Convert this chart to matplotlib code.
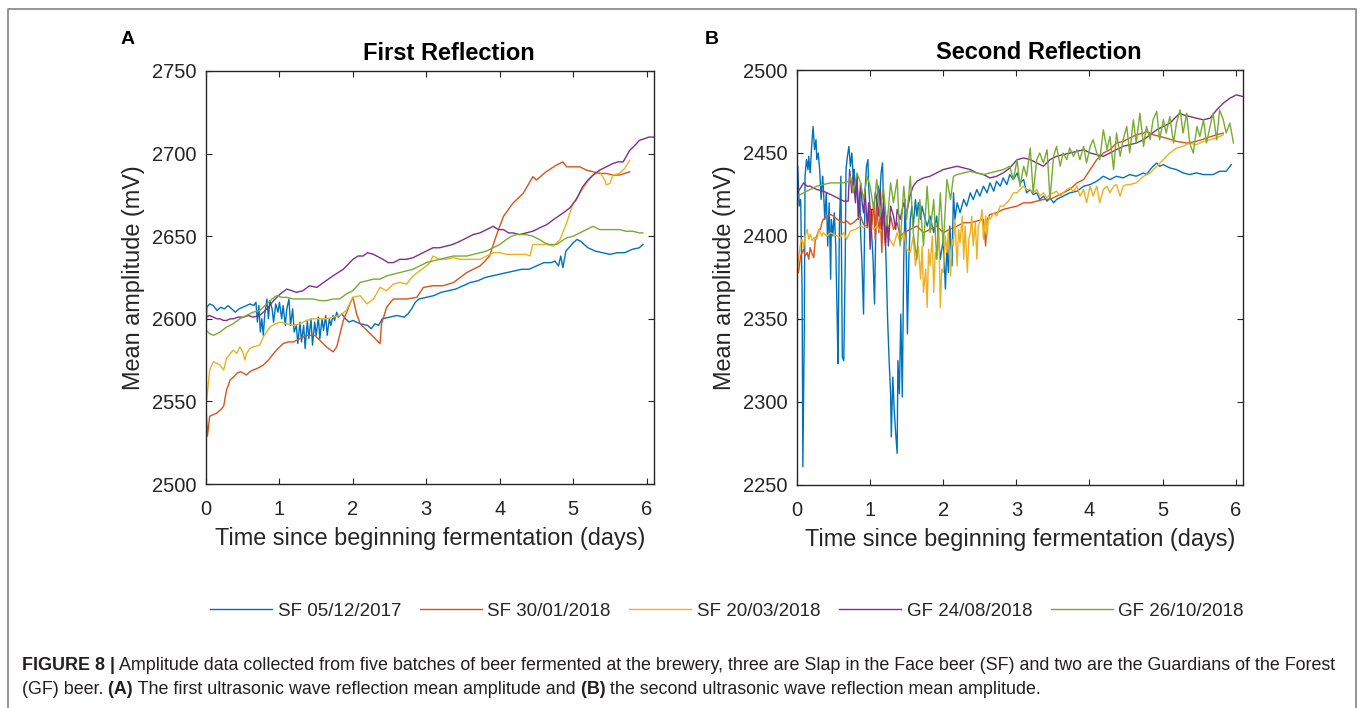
import matplotlib
matplotlib.use("Agg")
import matplotlib.pyplot as plt
from matplotlib.lines import Line2D

plt.rcParams["font.family"] = ["Liberation Sans", "DejaVu Sans"]

series_names = ["SF 05/12/2017", "SF 30/01/2018", "SF 20/03/2018", "GF 24/08/2018", "GF 26/10/2018"]
series_colors = ["#0072BD", "#D95319", "#EDB120", "#7E2F8E", "#77AC30"]

# ---- panel A: first reflection, (days, mean amplitude mV) ----
first_sf_0512 = [
    (0.00, 2590), (0.01, 2607), (0.05, 2609), (0.10, 2608), (0.15, 2605), (0.20, 2607), (0.25, 2606),
    (0.30, 2608), (0.35, 2606), (0.40, 2604), (0.45, 2606), (0.50, 2607), (0.55, 2608), (0.60, 2609),
    (0.65, 2608), (0.68, 2610), (0.70, 2598), (0.72, 2608), (0.74, 2592), (0.76, 2600), (0.78, 2590),
    (0.80, 2603), (0.83, 2612), (0.85, 2600), (0.87, 2611), (0.90, 2606), (0.92, 2598), (0.95, 2609),
    (0.98, 2604), (1.00, 2610), (1.03, 2600), (1.05, 2608), (1.08, 2596), (1.10, 2606), (1.13, 2612),
    (1.15, 2596), (1.18, 2606), (1.20, 2592), (1.23, 2596), (1.25, 2585), (1.28, 2598), (1.30, 2586),
    (1.33, 2596), (1.35, 2582), (1.38, 2599), (1.40, 2588), (1.43, 2600), (1.45, 2584), (1.48, 2598),
    (1.50, 2590), (1.53, 2601), (1.55, 2588), (1.58, 2600), (1.60, 2593), (1.63, 2602), (1.65, 2590),
    (1.68, 2600), (1.70, 2596), (1.73, 2602), (1.75, 2599), (1.78, 2604), (1.80, 2601), (1.85, 2603),
    (1.90, 2600), (1.95, 2598), (2.00, 2599), (2.10, 2597), (2.20, 2596), (2.25, 2594), (2.30, 2597),
    (2.35, 2596), (2.40, 2600), (2.50, 2601), (2.60, 2602), (2.70, 2601), (2.75, 2603), (2.80, 2606),
    (2.85, 2610), (2.90, 2612), (3.00, 2613), (3.10, 2614), (3.20, 2616), (3.30, 2617), (3.40, 2618),
    (3.50, 2620), (3.60, 2622), (3.70, 2623), (3.80, 2625), (3.90, 2626), (4.00, 2627), (4.10, 2628),
    (4.20, 2629), (4.30, 2630), (4.40, 2630), (4.50, 2632), (4.60, 2634), (4.70, 2634), (4.75, 2635),
    (4.80, 2632), (4.83, 2638), (4.86, 2631), (4.90, 2641), (5.00, 2646), (5.05, 2648), (5.10, 2647),
    (5.20, 2643), (5.30, 2641), (5.40, 2640), (5.50, 2639), (5.60, 2640), (5.70, 2640), (5.80, 2642),
    (5.90, 2643), (5.95, 2645),
]
first_sf_3001 = [
    (0.00, 2546), (0.02, 2529), (0.05, 2541), (0.10, 2542), (0.15, 2543), (0.20, 2545), (0.24, 2547),
    (0.28, 2557), (0.33, 2563), (0.38, 2565), (0.42, 2567), (0.47, 2568), (0.51, 2567), (0.55, 2566),
    (0.60, 2568), (0.64, 2569), (0.70, 2570), (0.78, 2572), (0.85, 2575), (0.92, 2579), (0.98, 2582),
    (1.05, 2585), (1.12, 2586), (1.19, 2586), (1.28, 2588), (1.37, 2590), (1.48, 2590), (1.55, 2587),
    (1.64, 2583), (1.73, 2580), (1.78, 2583), (1.87, 2599), (1.96, 2609), (2.00, 2613), (2.05, 2603),
    (2.10, 2597), (2.19, 2593), (2.28, 2589), (2.37, 2585), (2.39, 2597), (2.46, 2607), (2.55, 2612),
    (2.64, 2612), (2.73, 2612), (2.87, 2613), (2.96, 2619), (3.09, 2620), (3.23, 2620), (3.37, 2622),
    (3.46, 2625), (3.55, 2628), (3.64, 2630), (3.73, 2632), (3.80, 2635), (3.86, 2638), (3.95, 2650),
    (4.05, 2662), (4.18, 2670), (4.32, 2676), (4.45, 2686), (4.50, 2684), (4.63, 2689), (4.77, 2693),
    (4.86, 2695), (4.91, 2692), (5.00, 2692), (5.09, 2692), (5.18, 2690), (5.27, 2689), (5.36, 2688),
    (5.45, 2688), (5.54, 2687), (5.63, 2687), (5.70, 2688), (5.77, 2689),
]
first_sf_2003 = [
    (0.00, 2547), (0.03, 2560), (0.05, 2569), (0.10, 2574), (0.15, 2573), (0.19, 2572), (0.24, 2569),
    (0.28, 2576), (0.33, 2579), (0.37, 2581), (0.42, 2579), (0.46, 2583), (0.50, 2580), (0.53, 2575),
    (0.55, 2579), (0.60, 2582), (0.64, 2583), (0.73, 2584), (0.78, 2589), (0.87, 2595), (0.95, 2597),
    (1.01, 2598), (1.10, 2597), (1.19, 2596), (1.28, 2597), (1.37, 2599), (1.46, 2600), (1.55, 2600),
    (1.64, 2600), (1.73, 2601), (1.82, 2602), (1.91, 2605), (2.00, 2613), (2.10, 2614), (2.19, 2609),
    (2.28, 2612), (2.37, 2619), (2.46, 2617), (2.55, 2621), (2.64, 2622), (2.73, 2621), (2.82, 2626),
    (2.91, 2629), (3.00, 2632), (3.05, 2634), (3.09, 2638), (3.18, 2636), (3.27, 2636), (3.37, 2637),
    (3.46, 2636), (3.55, 2636), (3.64, 2636), (3.73, 2636), (3.82, 2638), (3.91, 2640), (4.00, 2640),
    (4.09, 2639), (4.18, 2639), (4.27, 2639), (4.36, 2639), (4.41, 2638), (4.45, 2645), (4.54, 2645),
    (4.63, 2645), (4.73, 2644), (4.82, 2648), (4.91, 2658), (5.00, 2670), (5.09, 2676), (5.18, 2682),
    (5.27, 2687), (5.36, 2689), (5.43, 2684), (5.45, 2681), (5.50, 2682), (5.54, 2687), (5.63, 2688),
    (5.70, 2691), (5.77, 2696),
]
first_gf_2408 = [
    (0.00, 2601), (0.05, 2602), (0.10, 2601), (0.15, 2600), (0.19, 2600), (0.24, 2599), (0.28, 2599),
    (0.33, 2600), (0.37, 2600), (0.44, 2601), (0.51, 2601), (0.58, 2602), (0.64, 2601), (0.73, 2602),
    (0.83, 2606), (0.92, 2611), (1.01, 2615), (1.10, 2618), (1.17, 2617), (1.23, 2616), (1.32, 2617),
    (1.41, 2620), (1.51, 2619), (1.60, 2622), (1.73, 2626), (1.87, 2630), (2.00, 2636), (2.07, 2638),
    (2.14, 2638), (2.20, 2640), (2.28, 2639), (2.41, 2636), (2.48, 2634), (2.55, 2634), (2.64, 2636),
    (2.73, 2636), (2.82, 2637), (2.91, 2639), (3.00, 2641), (3.09, 2643), (3.18, 2643), (3.27, 2644),
    (3.36, 2645), (3.46, 2647), (3.55, 2649), (3.64, 2651), (3.73, 2652), (3.82, 2654), (3.91, 2656),
    (3.98, 2654), (4.05, 2654), (4.12, 2652), (4.18, 2652), (4.27, 2651), (4.36, 2652), (4.45, 2653),
    (4.54, 2655), (4.64, 2657), (4.73, 2660), (4.86, 2664), (4.95, 2667), (5.04, 2672), (5.13, 2680),
    (5.20, 2684), (5.27, 2687), (5.36, 2690), (5.45, 2692), (5.54, 2694), (5.61, 2695), (5.68, 2695),
    (5.77, 2702), (5.84, 2705), (5.90, 2708), (5.97, 2709), (6.03, 2710), (6.09, 2710),
]
first_gf_2610 = [
    (0.00, 2593), (0.05, 2591), (0.10, 2590), (0.15, 2591), (0.19, 2592), (0.28, 2595), (0.37, 2597),
    (0.46, 2600), (0.55, 2602), (0.64, 2604), (0.73, 2605), (0.83, 2609), (0.90, 2612), (0.96, 2614),
    (1.03, 2613), (1.10, 2613), (1.19, 2612), (1.28, 2612), (1.37, 2612), (1.46, 2612), (1.55, 2611),
    (1.64, 2611), (1.73, 2612), (1.82, 2612), (1.91, 2615), (2.00, 2617), (2.10, 2622), (2.19, 2623),
    (2.28, 2624), (2.37, 2624), (2.46, 2626), (2.55, 2627), (2.64, 2628), (2.73, 2629), (2.82, 2630),
    (2.91, 2632), (3.00, 2634), (3.09, 2635), (3.18, 2636), (3.27, 2637), (3.37, 2638), (3.46, 2638),
    (3.55, 2638), (3.64, 2639), (3.73, 2640), (3.82, 2641), (3.91, 2643), (4.00, 2645), (4.09, 2648),
    (4.16, 2650), (4.23, 2651), (4.30, 2651), (4.36, 2651), (4.45, 2650), (4.54, 2648), (4.61, 2646),
    (4.68, 2645), (4.77, 2645), (4.84, 2647), (4.91, 2649), (5.00, 2650), (5.09, 2652), (5.18, 2654),
    (5.27, 2656), (5.36, 2654), (5.45, 2654), (5.54, 2654), (5.63, 2654), (5.72, 2653), (5.81, 2653),
    (5.90, 2652), (5.95, 2652),
]

# ---- panel B: second reflection ----
second_sf_0512 = [
    (0.00, 2420), (0.01, 2442), (0.03, 2418), (0.05, 2422), (0.07, 2366), (0.08, 2261), (0.10, 2345),
    (0.11, 2436), (0.13, 2446), (0.15, 2440), (0.16, 2448), (0.18, 2438), (0.20, 2454), (0.22, 2466),
    (0.24, 2452), (0.26, 2458), (0.27, 2446), (0.29, 2450), (0.31, 2440), (0.33, 2422), (0.35, 2436),
    (0.36, 2430), (0.38, 2410), (0.40, 2426), (0.42, 2394), (0.44, 2420), (0.46, 2374), (0.47, 2410),
    (0.49, 2400), (0.51, 2414), (0.53, 2394), (0.55, 2349), (0.56, 2323), (0.58, 2406), (0.60, 2436),
    (0.62, 2327), (0.64, 2325), (0.66, 2386), (0.67, 2440), (0.69, 2448), (0.71, 2454), (0.73, 2442),
    (0.75, 2450), (0.77, 2434), (0.78, 2440), (0.80, 2422), (0.82, 2436), (0.84, 2410), (0.86, 2426),
    (0.87, 2402), (0.89, 2382), (0.91, 2353), (0.93, 2426), (0.95, 2442), (0.97, 2446), (0.98, 2430),
    (1.00, 2416), (1.02, 2402), (1.04, 2386), (1.06, 2359), (1.08, 2410), (1.09, 2422), (1.11, 2430),
    (1.13, 2422), (1.15, 2438), (1.17, 2444), (1.18, 2426), (1.20, 2410), (1.22, 2382), (1.24, 2349),
    (1.26, 2325), (1.28, 2305), (1.29, 2279), (1.31, 2315), (1.33, 2295), (1.35, 2281), (1.37, 2269),
    (1.38, 2325), (1.40, 2305), (1.42, 2353), (1.44, 2303), (1.46, 2386), (1.48, 2422), (1.49, 2402),
    (1.51, 2341), (1.53, 2386), (1.55, 2410), (1.57, 2418), (1.59, 2406), (1.62, 2422), (1.64, 2412),
    (1.66, 2420), (1.69, 2410), (1.71, 2418), (1.73, 2414), (1.78, 2406), (1.82, 2412), (1.87, 2402),
    (1.91, 2412), (1.96, 2386), (2.00, 2398), (2.03, 2368), (2.05, 2394), (2.07, 2378), (2.09, 2406),
    (2.12, 2382), (2.14, 2426), (2.16, 2410), (2.19, 2420), (2.23, 2414), (2.28, 2422), (2.32, 2418),
    (2.37, 2426), (2.41, 2422), (2.46, 2428), (2.50, 2424), (2.55, 2430), (2.60, 2426), (2.64, 2432),
    (2.69, 2427), (2.73, 2433), (2.78, 2430), (2.82, 2435), (2.87, 2431), (2.91, 2437), (2.96, 2434),
    (3.01, 2438), (3.05, 2432), (3.10, 2434), (3.14, 2426), (3.19, 2428), (3.23, 2425), (3.28, 2426),
    (3.32, 2422), (3.37, 2424), (3.42, 2421), (3.46, 2423), (3.51, 2420), (3.55, 2422), (3.64, 2424),
    (3.73, 2426), (3.83, 2427), (3.92, 2430), (4.01, 2431), (4.10, 2433), (4.19, 2436), (4.28, 2434),
    (4.37, 2436), (4.46, 2435), (4.55, 2437), (4.64, 2436), (4.74, 2438), (4.78, 2437), (4.83, 2440),
    (4.87, 2442), (4.92, 2444), (4.96, 2442), (5.01, 2443), (5.10, 2441), (5.19, 2440), (5.28, 2438),
    (5.37, 2437), (5.46, 2438), (5.56, 2437), (5.69, 2437), (5.78, 2439), (5.87, 2439), (5.94, 2443),
]
second_sf_3001 = [
    (0.00, 2382), (0.02, 2378), (0.05, 2388), (0.07, 2390), (0.09, 2392), (0.11, 2388), (0.14, 2390),
    (0.16, 2386), (0.18, 2393), (0.20, 2390), (0.23, 2387), (0.25, 2398), (0.27, 2400), (0.30, 2404),
    (0.32, 2404), (0.34, 2408), (0.36, 2410), (0.41, 2412), (0.46, 2413), (0.50, 2412), (0.55, 2410),
    (0.59, 2409), (0.64, 2408), (0.68, 2409), (0.73, 2407), (0.77, 2408), (0.82, 2410), (0.87, 2412),
    (0.91, 2407), (0.96, 2405), (1.00, 2418), (1.02, 2404), (1.05, 2420), (1.07, 2398), (1.09, 2418),
    (1.12, 2402), (1.14, 2414), (1.16, 2390), (1.18, 2416), (1.21, 2396), (1.23, 2408), (1.25, 2402),
    (1.28, 2412), (1.32, 2404), (1.37, 2408), (1.41, 2400), (1.46, 2402), (1.55, 2404), (1.64, 2406),
    (1.73, 2402), (1.82, 2404), (1.91, 2406), (2.00, 2402), (2.09, 2404), (2.19, 2406), (2.28, 2408),
    (2.37, 2408), (2.46, 2409), (2.55, 2410), (2.58, 2394), (2.60, 2410), (2.64, 2413), (2.73, 2414),
    (2.82, 2416), (2.91, 2417), (3.01, 2418), (3.10, 2420), (3.19, 2420), (3.28, 2421), (3.37, 2422),
    (3.46, 2422), (3.55, 2424), (3.64, 2426), (3.73, 2428), (3.83, 2432), (3.92, 2434), (4.01, 2440),
    (4.10, 2446), (4.19, 2450), (4.28, 2452), (4.37, 2456), (4.46, 2457), (4.55, 2459), (4.64, 2461),
    (4.74, 2462), (4.78, 2463), (4.87, 2461), (4.96, 2460), (5.05, 2459), (5.19, 2457), (5.33, 2456),
    (5.46, 2457), (5.60, 2459), (5.74, 2461), (5.83, 2462),
]
second_sf_2003 = [
    (0.00, 2374), (0.02, 2386), (0.05, 2396), (0.07, 2398), (0.09, 2393), (0.11, 2400), (0.14, 2404),
    (0.16, 2398), (0.18, 2401), (0.21, 2397), (0.23, 2399), (0.27, 2398), (0.30, 2404), (0.34, 2400),
    (0.36, 2402), (0.41, 2400), (0.46, 2402), (0.50, 2401), (0.55, 2400), (0.59, 2399), (0.64, 2402),
    (0.68, 2398), (0.73, 2403), (0.80, 2404), (0.87, 2406), (0.91, 2405), (0.96, 2406), (1.00, 2406),
    (1.05, 2404), (1.09, 2406), (1.14, 2403), (1.18, 2406), (1.23, 2400), (1.27, 2398), (1.32, 2394),
    (1.37, 2402), (1.41, 2396), (1.46, 2402), (1.50, 2392), (1.55, 2390), (1.59, 2400), (1.62, 2382),
    (1.66, 2394), (1.69, 2374), (1.71, 2394), (1.73, 2366), (1.76, 2380), (1.78, 2357), (1.80, 2392),
    (1.82, 2382), (1.85, 2400), (1.87, 2366), (1.89, 2390), (1.91, 2386), (1.94, 2404), (1.96, 2357),
    (1.98, 2380), (2.00, 2378), (2.03, 2400), (2.05, 2390), (2.07, 2402), (2.10, 2376), (2.12, 2398),
    (2.14, 2394), (2.16, 2410), (2.19, 2382), (2.21, 2404), (2.23, 2396), (2.26, 2412), (2.28, 2386),
    (2.30, 2406), (2.33, 2378), (2.35, 2398), (2.37, 2402), (2.39, 2412), (2.41, 2394), (2.44, 2408),
    (2.46, 2386), (2.48, 2406), (2.51, 2410), (2.53, 2416), (2.55, 2398), (2.58, 2412), (2.60, 2400),
    (2.62, 2412), (2.64, 2410), (2.69, 2414), (2.73, 2412), (2.78, 2418), (2.82, 2418), (2.87, 2420),
    (2.91, 2422), (2.96, 2426), (3.01, 2426), (3.05, 2428), (3.10, 2430), (3.14, 2428), (3.19, 2428),
    (3.23, 2426), (3.28, 2428), (3.32, 2424), (3.37, 2426), (3.42, 2423), (3.46, 2425), (3.51, 2426),
    (3.55, 2427), (3.60, 2424), (3.64, 2426), (3.69, 2428), (3.73, 2429), (3.78, 2427), (3.83, 2430),
    (3.87, 2424), (3.92, 2428), (3.96, 2420), (4.01, 2430), (4.05, 2424), (4.10, 2430), (4.14, 2420),
    (4.19, 2428), (4.24, 2430), (4.28, 2426), (4.33, 2430), (4.37, 2431), (4.42, 2424), (4.46, 2430),
    (4.51, 2431), (4.55, 2431), (4.64, 2432), (4.69, 2434), (4.74, 2436), (4.83, 2438), (4.92, 2442),
    (5.01, 2446), (5.10, 2450), (5.19, 2453), (5.28, 2454), (5.37, 2456), (5.46, 2455), (5.56, 2457),
    (5.65, 2458), (5.74, 2459), (5.83, 2461),
]
second_gf_2408 = [
    (0.00, 2426), (0.05, 2429), (0.09, 2432), (0.14, 2430), (0.18, 2430), (0.27, 2428), (0.36, 2427),
    (0.46, 2425), (0.55, 2423), (0.64, 2421), (0.70, 2421), (0.72, 2440), (0.75, 2426), (0.77, 2436),
    (0.80, 2420), (0.82, 2436), (0.84, 2412), (0.87, 2432), (0.89, 2420), (0.91, 2414), (0.93, 2428),
    (0.96, 2406), (0.98, 2420), (1.00, 2392), (1.02, 2416), (1.05, 2416), (1.07, 2426), (1.09, 2422),
    (1.12, 2412), (1.14, 2428), (1.16, 2404), (1.18, 2420), (1.21, 2394), (1.23, 2412), (1.25, 2394),
    (1.28, 2418), (1.32, 2412), (1.35, 2404), (1.37, 2416), (1.41, 2410), (1.46, 2420), (1.50, 2414),
    (1.55, 2425), (1.59, 2430), (1.64, 2433), (1.73, 2435), (1.82, 2436), (1.91, 2438), (2.00, 2440),
    (2.09, 2441), (2.19, 2442), (2.28, 2441), (2.37, 2440), (2.46, 2438), (2.55, 2437), (2.64, 2435),
    (2.73, 2436), (2.82, 2438), (2.91, 2441), (3.01, 2446), (3.10, 2447), (3.19, 2446), (3.28, 2444),
    (3.37, 2442), (3.46, 2446), (3.55, 2448), (3.64, 2449), (3.73, 2450), (3.83, 2451), (3.92, 2452),
    (4.01, 2450), (4.10, 2449), (4.19, 2448), (4.28, 2450), (4.37, 2452), (4.46, 2454), (4.55, 2455),
    (4.64, 2456), (4.74, 2458), (4.83, 2461), (4.92, 2464), (5.01, 2466), (5.10, 2468), (5.19, 2472),
    (5.24, 2474), (5.28, 2473), (5.37, 2472), (5.46, 2471), (5.56, 2470), (5.65, 2471), (5.74, 2476),
    (5.83, 2480), (5.92, 2483), (6.01, 2485), (6.10, 2484),
]
second_gf_2610 = [
    (0.00, 2424), (0.09, 2426), (0.18, 2428), (0.27, 2430), (0.36, 2431), (0.46, 2432), (0.55, 2432),
    (0.64, 2432), (0.71, 2433), (0.73, 2436), (0.77, 2426), (0.82, 2438), (0.87, 2432), (0.91, 2422),
    (0.96, 2436), (1.00, 2430), (1.05, 2416), (1.09, 2434), (1.14, 2412), (1.18, 2430), (1.23, 2406),
    (1.28, 2432), (1.32, 2420), (1.37, 2434), (1.41, 2394), (1.46, 2430), (1.50, 2410), (1.55, 2436),
    (1.59, 2402), (1.64, 2386), (1.68, 2422), (1.73, 2394), (1.78, 2430), (1.82, 2402), (1.87, 2422),
    (1.91, 2386), (1.96, 2426), (2.00, 2394), (2.05, 2434), (2.10, 2422), (2.14, 2436), (2.19, 2437),
    (2.28, 2438), (2.37, 2439), (2.46, 2438), (2.55, 2437), (2.64, 2438), (2.73, 2439), (2.82, 2440),
    (2.91, 2442), (2.96, 2434), (3.01, 2446), (3.05, 2430), (3.10, 2442), (3.14, 2436), (3.19, 2453),
    (3.23, 2426), (3.28, 2446), (3.32, 2450), (3.37, 2444), (3.42, 2452), (3.46, 2422), (3.51, 2448),
    (3.55, 2454), (3.60, 2442), (3.64, 2450), (3.69, 2446), (3.73, 2453), (3.78, 2448), (3.83, 2452),
    (3.87, 2446), (3.92, 2454), (3.96, 2444), (4.01, 2454), (4.05, 2458), (4.10, 2450), (4.14, 2446),
    (4.19, 2464), (4.24, 2452), (4.28, 2460), (4.33, 2440), (4.37, 2462), (4.42, 2448), (4.46, 2458),
    (4.51, 2466), (4.55, 2450), (4.60, 2470), (4.64, 2456), (4.69, 2474), (4.74, 2454), (4.78, 2466),
    (4.83, 2458), (4.87, 2470), (4.92, 2475), (4.96, 2458), (5.01, 2470), (5.05, 2462), (5.10, 2472),
    (5.15, 2456), (5.19, 2468), (5.24, 2476), (5.28, 2462), (5.33, 2474), (5.37, 2456), (5.42, 2450),
    (5.47, 2466), (5.51, 2460), (5.56, 2470), (5.60, 2456), (5.65, 2466), (5.69, 2474), (5.74, 2458),
    (5.78, 2476), (5.83, 2470), (5.87, 2462), (5.92, 2468), (5.97, 2456),
]

first_reflection = [first_sf_0512, first_sf_3001, first_sf_2003, first_gf_2408, first_gf_2610]
second_reflection = [second_sf_0512, second_sf_3001, second_sf_2003, second_gf_2408, second_gf_2610]

panel_titles = ["First Reflection", "Second Reflection"]
panel_letters = ["A", "B"]
y_ranges = [(2500, 2750), (2250, 2500)]
y_ticks = [[2500, 2550, 2600, 2650, 2700, 2750], [2250, 2300, 2350, 2400, 2450, 2500]]
x_ticks = [0, 1, 2, 3, 4, 5, 6]

caption_line1 = [
    ("FIGURE 8 |", "bold"),
    (" Amplitude data collected from five batches of beer fermented at the brewery, three are Slap in the "
     "Face beer (SF) and two are the Guardians of the Forest", "normal"),
]
caption_line2 = [
    ("(GF) beer.", "normal"),
    (" (A)", "bold"),
    (" The first ultrasonic wave reflection mean amplitude and", "normal"),
    (" (B)", "bold"),
    (" the second ultrasonic wave reflection mean amplitude.", "normal"),
]

W, H = 1360, 708
INK = "#262626"


def draw_runs(fig, x_px, y_px, runs, size, color):
    renderer = fig.canvas.get_renderer()
    x = x_px
    for text, weight in runs:
        t = fig.text(x / W, 1 - y_px / H, text, fontsize=size, fontweight=weight,
                     color=color, ha="left", va="center")
        x += t.get_window_extent(renderer).width


def main() -> None:
    fig = plt.figure(figsize=(W / 100, H / 100), dpi=100)

    boxes = [(206, 71, 654, 484), (797, 70, 1243, 485)]
    axes = []
    for left, top, right, bottom in boxes:
        axes.append(fig.add_axes([left / W, 1 - bottom / H, (right - left) / W, (bottom - top) / H]))

    for i, (ax, data) in enumerate(zip(axes, [first_reflection, second_reflection])):
        for series, color, name in zip(data, series_colors, series_names):
            t, v = zip(*series)
            ax.plot(t, v, color=color, lw=1.0, label=name)
        ax.set_xlim(0, 6.1)
        ax.set_ylim(*y_ranges[i])
        ax.set_xticks(x_ticks)
        ax.set_yticks(y_ticks[i])
        ax.tick_params(direction="in", top=True, right=True, length=4, width=0.8,
                       labelsize=14.5, colors=INK)
        ax.tick_params(axis="x", pad=11.5)
        ax.tick_params(axis="y", pad=6.5)
        for spine in ax.spines.values():
            spine.set_color(INK)
            spine.set_linewidth(1.0)
        ax.set_xlabel("Time since beginning fermentation (days)", fontsize=16.9, color=INK, labelpad=6)
        ax.set_ylabel("Mean amplitude (mV)", fontsize=16.9, color=INK, labelpad=5)
        ax.set_title(panel_titles[i], fontsize=17, fontweight="bold", color="black", pad=8,
                     x=0.5 + 19 / 448)

    fig.text(128 / W, 1 - 40 / H, panel_letters[0], fontsize=14, fontweight="bold", ha="center", va="center")
    fig.text(712 / W, 1 - 40 / H, panel_letters[1], fontsize=14, fontweight="bold", ha="center", va="center")

    handles = [Line2D([], [], color=c, lw=1.0) for c in series_colors]
    fig.legend(handles, series_names, loc="center", bbox_to_anchor=(727 / W, 1 - 611 / H), ncol=5,
               frameon=False, fontsize=13.5, handlelength=3.3, handletextpad=0.3, columnspacing=1.0,
               labelcolor=INK)

    # outer frame of the figure panel
    frame_color = "#8c8c8c"
    fig.add_artist(Line2D([8 / W, 8 / W, 1356 / W, 1356 / W], [0, 1 - 9 / H, 1 - 9 / H, 0],
                          transform=fig.transFigure, color=frame_color, lw=1.3))

    draw_runs(fig, 22, 665, caption_line1, 12.9, "#231f20")
    draw_runs(fig, 22, 690, caption_line2, 12.9, "#231f20")

    fig.savefig("out.png", dpi=100)
    plt.close(fig)


if __name__ == "__main__":
    main()
